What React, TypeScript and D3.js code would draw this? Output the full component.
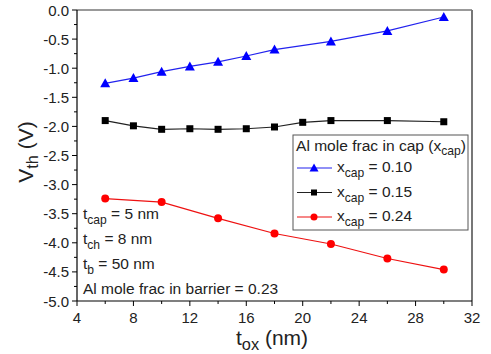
import React from "react";
import * as d3 from "d3";

const xBlue = [6, 8, 10, 12, 14, 16, 18, 22, 26, 30];
const yBlue = [-1.26, -1.17, -1.06, -0.97, -0.89, -0.79, -0.68, -0.54, -0.36, -0.12];
const xBlack = [6, 8, 10, 12, 14, 16, 18, 20, 22, 26, 30];
const yBlack = [-1.9, -1.99, -2.05, -2.04, -2.05, -2.04, -2.01, -1.93, -1.9, -1.9, -1.92];
const xRed = [6, 10, 14, 18, 22, 26, 30];
const yRed = [-3.24, -3.3, -3.58, -3.84, -4.02, -4.27, -4.46];
const xTicks = [4, 8, 12, 16, 20, 24, 28, 32];
const yTicks = [0, -0.5, -1, -1.5, -2, -2.5, -3, -3.5, -4, -4.5, -5];

const W = 491, H = 354;
const L = 77, R = 472, T = 10, B = 301;
const FONT = "'Liberation Sans', Arial, sans-serif";
const FS = 15.5;

export default function App() {
  const x = d3.scaleLinear().domain([4, 32]).range([L, R]);
  const y = d3.scaleLinear().domain([-5, 0]).range([B, T]);
  const line = d3.line<[number, number]>().x(d => x(d[0])).y(d => y(d[1]));
  const zip = (a: number[], b: number[]) => a.map((v, i) => [v, b[i]] as [number, number]);
  const blue = zip(xBlue, yBlue), black = zip(xBlack, yBlack), red = zip(xRed, yRed);
  const tri = (cx: number, cy: number, s = 5) => `M${cx},${cy - s}L${cx + s},${cy + s * 0.8}L${cx - s},${cy + s * 0.8}Z`;
  const xMinor = d3.range(6, 32, 4);
  const yMinor = d3.range(-4.75, 0, 0.5);
  const sub = (main: string, s: string, rest: string, dy = 4) => (
    <>
      {main}
      <tspan dy={dy} fontSize="0.78em">{s}</tspan>
      <tspan dy={-dy}>{rest}</tspan>
    </>
  );
  return (
    <div style={{ position: "fixed", left: 0, top: 0 }}>
      <svg width={W} height={H} style={{ display: "block", background: "#fff" }} fontFamily={FONT}>
        {/* frame */}
        <line x1={L} x2={R} y1={T} y2={T} stroke="#777" strokeWidth={1.5} />
        <line x1={R} x2={R} y1={T} y2={B} stroke="#777" strokeWidth={2} />
        <line x1={L} x2={L} y1={T} y2={B} stroke="#000" strokeWidth={1.2} />
        <line x1={L} x2={R} y1={B} y2={B} stroke="#000" strokeWidth={1.2} />
        {/* x ticks */}
        {xTicks.map(t => (
          <g key={"xt" + t}>
            <line x1={x(t)} x2={x(t)} y1={B} y2={B + 5} stroke="#000" />
            <text x={x(t)} y={B + 22} textAnchor="middle" fontSize={15} fill="#222">{t}</text>
          </g>
        ))}
        {xMinor.map(t => (
          <line key={"xm" + t} x1={x(t)} x2={x(t)} y1={B} y2={B + 3} stroke="#000" />
        ))}
        {/* y ticks */}
        {yTicks.map(t => (
          <g key={"yt" + t}>
            <line x1={L - 5} x2={L} y1={y(t)} y2={y(t)} stroke="#000" />
            <text x={L - 8} y={y(t) + 5.5} textAnchor="end" fontSize={15} fill="#222">{t.toFixed(1)}</text>
          </g>
        ))}
        {yMinor.map(t => (
          <line key={"ym" + t} x1={L - 3} x2={L} y1={y(t)} y2={y(t)} stroke="#000" />
        ))}
        {/* axis titles */}
        <text x={272} y={345} textAnchor="middle" fontSize={21} fill="#222">
          {sub("t", "ox", " (nm)", 5)}
        </text>
        <text transform={`translate(33,152) rotate(-90)`} textAnchor="middle" fontSize={21} fill="#222">
          {sub("V", "th", " (V)", 5)}
        </text>
        {/* series */}
        <path d={line(blue) || ""} fill="none" stroke="#2222ee" strokeWidth={1.2} />
        {blue.map((d, i) => <path key={"b" + i} d={tri(x(d[0]), y(d[1]))} fill="#0000ff" />)}
        <path d={line(black) || ""} fill="none" stroke="#222" strokeWidth={1.2} />
        {black.map((d, i) => <rect key={"k" + i} x={x(d[0]) - 3.5} y={y(d[1]) - 3.5} width={7} height={7} fill="#000" />)}
        <path d={line(red) || ""} fill="none" stroke="#ee1111" strokeWidth={1.2} />
        {red.map((d, i) => <circle key={"r" + i} cx={x(d[0])} cy={y(d[1])} r={4} fill="#ff0000" />)}
        {/* legend */}
        <rect x={293} y={135} width={175} height={95} fill="#fff" stroke="#555" strokeWidth={1} />
        <text x={296} y={151} fontSize={FS} fill="#222" textLength={170} lengthAdjust="spacingAndGlyphs">
          Al mole frac in cap (x<tspan dy={4} fontSize="0.78em">cap</tspan><tspan dy={-4}>)</tspan>
        </text>
        {[
          { c: "#2222ee", v: "0.10", m: "tri" },
          { c: "#222", v: "0.15", m: "sq" },
          { c: "#ee1111", v: "0.24", m: "ci" },
        ].map((it, i) => {
          const yy = 168 + i * 24.5;
          return (
            <g key={"lg" + i}>
              <line x1={297} x2={332} y1={yy} y2={yy} stroke={it.c} strokeWidth={1.2} />
              {it.m === "tri" && <path d={tri(314, yy, 4.5)} fill="#0000ff" />}
              {it.m === "sq" && <rect x={311} y={yy - 3} width={6} height={6} fill="#000" />}
              {it.m === "ci" && <circle cx={314} cy={yy} r={3.5} fill="#ff0000" />}
              <text x={337} y={yy + 4} fontSize={FS} fill="#222">
                x<tspan dy={5} fontSize="0.78em">cap</tspan><tspan dy={-5}>{" = " + it.v}</tspan>
              </text>
            </g>
          );
        })}
        {/* annotations */}
        <text x={83} y={219} fontSize={FS} fill="#222">{sub("t", "cap", " = 5 nm", 5)}</text>
        <text x={83} y={244} fontSize={FS} fill="#222">{sub("t", "ch", " = 8 nm", 5)}</text>
        <text x={83} y={269} fontSize={FS} fill="#222">{sub("t", "b", " = 50 nm", 5)}</text>
        <text x={83} y={294} fontSize={FS} fill="#222">Al mole frac in barrier = 0.23</text>
      </svg>
    </div>
  );
}
